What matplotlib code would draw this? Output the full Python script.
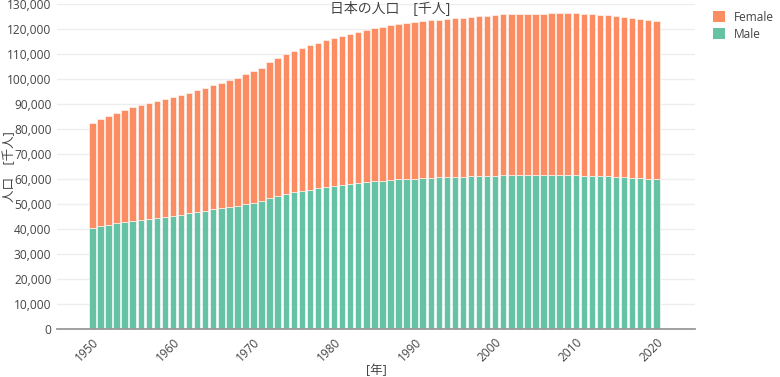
import matplotlib.pyplot as plt
from matplotlib.patches import Patch
from matplotlib.ticker import FuncFormatter

plt.rcParams['font.family'] = ['Open Sans', 'Noto Sans CJK JP', 'DejaVu Sans']

years = list(range(1950, 2021))

# population in thousands
male = [
    40500, 41100, 41700, 42300, 42900, 43400, 43800, 44200, 44600, 45000,
    45400, 45800, 46300, 46800, 47300, 47900, 48300, 48800, 49400, 50000,
    50600, 51300, 52500, 53300, 54000, 54700, 55300, 55800, 56300, 56800,
    57200, 57600, 58000, 58400, 58800, 59100, 59400, 59700, 59900, 60100,
    60200, 60400, 60600, 60700, 60800, 60900, 61000, 61100, 61200, 61300,
    61400, 61500, 61500, 61500, 61500, 61500, 61500, 61500, 61500, 61500,
    61500, 61400, 61300, 61200, 61100, 60900, 60800, 60600, 60400, 60200,
    60000,
]
female = [
    42100, 42800, 43500, 44100, 44700, 45300, 45800, 46100, 46500, 47000,
    47400, 47800, 48200, 48700, 49200, 49700, 50100, 50700, 51200, 51900,
    52500, 53200, 54400, 55100, 55900, 56600, 57100, 57700, 58200, 58700,
    59100, 59600, 60000, 60400, 60800, 61200, 61500, 61800, 62000, 62200,
    62500, 62700, 62900, 63100, 63300, 63400, 63600, 63800, 63900, 64000,
    64200, 64400, 64500, 64600, 64700, 64700, 64700, 64800, 64800, 64800,
    64900, 64800, 64700, 64600, 64500, 64400, 64200, 64000, 63800, 63500,
    63400,
]

c_male = '#66C2A5'
c_female = '#FC8D62'
txt = '#444444'

fig = plt.figure(figsize=(7.8, 3.77), dpi=100)
ax = fig.add_axes([0.073, 0.127, 0.818, 0.862])

ax.bar(years, male, width=0.8, color=c_male, edgecolor='#f4fbf8', linewidth=0.5, zorder=2)
ax.bar(years, female, width=0.8, bottom=male, color=c_female, edgecolor='#fff3ee',
       linewidth=0.5, zorder=2)

ax.set_xlim(1945.6, 2024.8)
ax.set_ylim(0, 130000)
ax.set_yticks(range(0, 130001, 10000))
ax.yaxis.set_major_formatter(FuncFormatter(lambda v, p: f"{int(v):,}"))
ax.set_xticks(range(1950, 2021, 10))
ax.tick_params(axis='x', labelrotation=45, colors=txt, labelsize=8.6, length=0, pad=5)
ax.tick_params(axis='y', colors=txt, labelsize=8.6, length=0, pad=4)
for lab in ax.get_xticklabels():
    lab.set_ha('right')
    lab.set_rotation_mode('anchor')

ax.grid(axis='y', color='#eeeeee', linewidth=1, zorder=0)
ax.set_axisbelow(True)
for s in ['top', 'right', 'left']:
    ax.spines[s].set_visible(False)
ax.spines['bottom'].set_color('#999999')
ax.spines['bottom'].set_linewidth(1.3)
ax.spines['bottom'].set_zorder(3)

ax.set_xlabel('[年]', color=txt, fontsize=9, va='center')
ax.xaxis.set_label_coords(0.5, -0.126)
ax.set_ylabel('人口　[千人]', color=txt, fontsize=9, va='center')
ax.yaxis.set_label_coords(-0.075, 0.5)
fig.suptitle('日本の人口　[千人]', x=0.5, y=0.995, color=txt, fontsize=10)

handles = [Patch(facecolor=c_female, label='Female'), Patch(facecolor=c_male, label='Male')]
fig.legend(handles=handles, loc='upper left', bbox_to_anchor=(0.9, 1.0), frameon=False,
           fontsize=8.6, labelcolor=txt, handlelength=1.0, handleheight=1.0,
           handletextpad=0.8, labelspacing=0.35)

fig.savefig('out.png', dpi=100)
